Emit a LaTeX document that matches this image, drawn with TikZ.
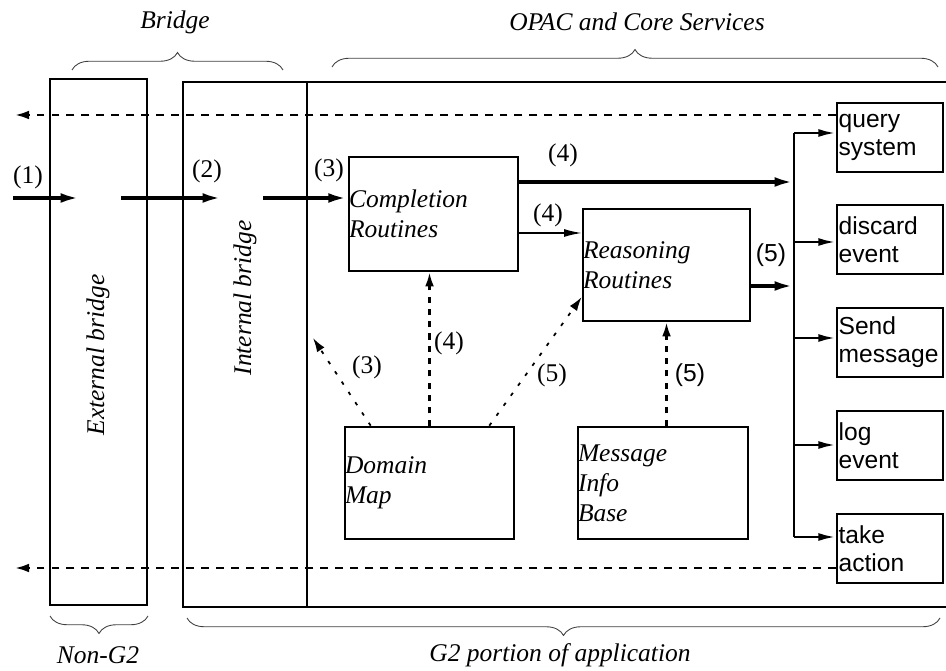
\documentclass[tikz,border=0pt]{standalone}
\usepackage{fontspec}
\setmainfont{Liberation Serif}
\setsansfont{Liberation Sans}
\usepackage{tikz}
\usetikzlibrary{arrows.meta,positioning,calc,decorations.pathreplacing}

\newcommand{\palit}{\fontsize{14.5}{17}\selectfont\itshape}
\newcommand{\palup}{\fontsize{14.5}{17}\selectfont}
\newcommand{\helv}{\fontsize{14}{16}\selectfont\sffamily}

\tikzset{
	frame/.style={line width=1.5pt},
	rbox/.style={draw,frame,inner sep=0pt,align=left,font=\palit},
	abox/.style={draw,line width=1pt,anchor=north west,inner xsep=1pt,inner ysep=0pt,
		minimum height=1.38cm,text width=2.05cm,align=left,font=\helv},
	flow/.style={line width=2.1pt,-{Latex[length=11pt,width=5.5pt]}},
	thinflow/.style={line width=0.8pt,-{Latex[length=10pt,width=4.5pt]}},
	branch/.style={line width=1.5pt,-{Latex[length=10pt,width=4.5pt]}},
	ret/.style={line width=1.4pt,dash pattern=on 4.5pt off 4pt,-{Latex[length=8pt,width=5pt]}},
	dep/.style={line width=1.4pt,dash pattern=on 3.5pt off 3.5pt,-{Latex[length=8pt,width=5pt]}},
	dep2/.style={line width=1pt,dash pattern=on 2pt off 5pt,-{Latex[length=8pt,width=5pt]}},
	brc/.style={decorate,decoration={brace,amplitude=0.35cm},line width=0.5pt,black!75},
}

\begin{document}
\begin{tikzpicture}[x=0.02cm,y=-0.02cm]
	\useasboundingbox (0,0) rectangle (946,671);
	% frames
	\draw[frame] (50,79) rectangle (147,605);
	\draw[frame] (946,82) -- (183,82) -- (183,607) -- (946,607);
	\draw[frame] (307,82) -- (307,607);
	\node[rotate=90,font=\palit] (extlbl) at (98,355) {External bridge};
	\node[rotate=90,font=\palit] (intlbl) at (245,298) {Internal bridge};
	% braces
	\draw[brc] (72,70) -- (283,70);
	\draw[brc] (332,67) -- (938,67);
	\draw[brc] (148,616) -- (50,616);
	\draw[brc] (940,618) -- (187,618);
	\node[font=\palit] (bridge) at (175,22) {Bridge};
	\node[font=\palit] (opac) at (637,22) {OPAC and Core Services};
	\node[font=\palit] (nong2) at (98,655) {Non-G2};
	\node[font=\palit] (g2) at (560,655) {G2 portion of application};
	% routines and bases
	\node[rbox,text width=3.38cm,minimum height=2.28cm] (compl) at (433.5,214) {Completion\\Routines};
	\node[rbox,text width=3.34cm,minimum height=2.24cm] (reas) at (666.5,265) {Reasoning\\Routines};
	\node[rbox,text width=3.38cm,minimum height=2.24cm] (dom) at (429.5,483) {Domain\\Map};
	\node[rbox,text width=3.40cm,minimum height=2.24cm] (msg) at (663,483) {Message\\Info\\Base};
	% actions
	\coordinate (bustop) at (794,133);
	\coordinate (busbot) at (794,537);
	\draw[line width=1.5pt] (bustop) -- (busbot);
	\foreach \nm/\ty/\ay/\txt in {query/102/133/query\\system,discard/204/242/discard\\event,
		send/307/338/Send\\message,log/410/445/log\\event,take/513/537/take\\action}{
		\node[abox] (\nm) at (836,\ty) {\txt};
		\draw[branch] (794,\ay) -- (\nm.west |- 0,\ay);
	}
	% incoming flow
	\coordinate (in1) at (13,198);
	\coordinate (in1e) at (80,198);
	\coordinate (in2) at (121,198);
	\coordinate (in2e) at (222,198);
	\coordinate (in3) at (263,198);
	\draw[flow] (in1) -- (in1e);
	\draw[flow] (in2) -- (in2e);
	\draw[flow] (in3) -- (compl.west |- in3);
	\node[font=\palup] (l1) at (28,177) {(1)};
	\node[font=\palup] (l2) at (207,171) {(2)};
	\node[font=\palup] (l3) at (329,170) {(3)};
	% to the actions
	\coordinate (bus4) at (794,182);
	\coordinate (bus5) at (794,286);
	\draw[flow] (compl.east |- bus4) -- (bus4);
	\draw[thinflow] (compl.east |- 0,233) -- (reas.west |- 0,233);
	\draw[flow] (reas.east |- bus5) -- (bus5);
	\node[font=\palup] (l4a) at (563,155) {(4)};
	\node[font=\palup] (l4b) at (548,215) {(4)};
	\node[font=\helv] (l5a) at (771,255) {(5)};
	% lookups
	\coordinate (d3) at (313,338);
	\draw[dep2] ($(dom.north west)+(27,0)$) -- (d3);
	\draw[dep] (dom.north) -- (dom.north |- compl.south);
	\draw[dep2] ($(dom.north east)+(-26,0)$) -- (reas.west |- 0,297);
	\draw[dep] (msg.north -| reas.south) -- (reas.south);
	\node[font=\palup] (l3b) at (367,367) {(3)};
	\node[font=\palup] (l4c) at (449,343) {(4)};
	\node[font=\palup] (l5b) at (552,375) {(5)};
	\node[font=\helv] (l5c) at (690,375) {(5)};
	% returns
	\coordinate (out1) at (15,115);
	\coordinate (out2) at (15,568);
	\draw[ret] (query.west |- out1) -- (out1);
	\draw[ret] (take.west |- out2) -- (out2);
\end{tikzpicture}
\end{document}
